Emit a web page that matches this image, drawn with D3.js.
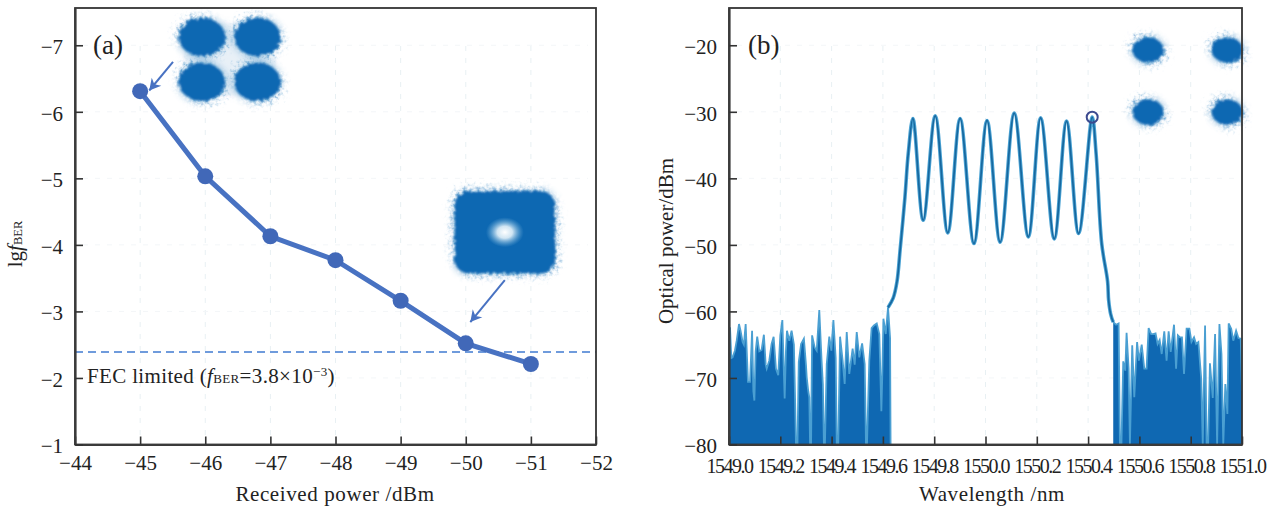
<!DOCTYPE html>
<html>
<head>
<meta charset="utf-8">
<script src="https://cdn.jsdelivr.net/npm/d3@7"></script>
<style>
    html, body { margin: 0; padding: 0; background: #fff; }
    svg { display: block; font-family: "Liberation Serif", serif; fill: #222; }
</style>
</head>
<body>
<div id="chart"></div>
<script>
// Panel (a): BER against received power
const receivedPower = [-45, -46, -47, -48, -49, -50, -51];
const lgBer = [-6.31, -5.03, -4.13, -3.77, -3.16, -2.52, -2.21];
const fecLimit = -2.39;
const powerTicks = [-44, -45, -46, -47, -48, -49, -50, -51, -52];
const berTicks = [-7, -6, -5, -4, -3, -2, -1];

// Panel (b): optical spectrum
const noiseLeftWl = [1549.004, 1549.009, 1549.014, 1549.023, 1549.030, 1549.039, 1549.045, 1549.053, 1549.058, 1549.065, 1549.074, 1549.082, 1549.090, 1549.095, 1549.099, 1549.104, 1549.110, 1549.118, 1549.127, 1549.136, 1549.143, 1549.147, 1549.157, 1549.166, 1549.174, 1549.183, 1549.192, 1549.200, 1549.208, 1549.213, 1549.217, 1549.222, 1549.226, 1549.235, 1549.244, 1549.253, 1549.257, 1549.261, 1549.267, 1549.272, 1549.281, 1549.292, 1549.300, 1549.303, 1549.309, 1549.313, 1549.316, 1549.320, 1549.324, 1549.334, 1549.342, 1549.352, 1549.361, 1549.366, 1549.370, 1549.374, 1549.381, 1549.391, 1549.399, 1549.407, 1549.416, 1549.420, 1549.426, 1549.433, 1549.443, 1549.451, 1549.459, 1549.469, 1549.482, 1549.490, 1549.498, 1549.508, 1549.519, 1549.529, 1549.534, 1549.538, 1549.547, 1549.556, 1549.565, 1549.576, 1549.586, 1549.594, 1549.598, 1549.602, 1549.611, 1549.620, 1549.628, 1549.630];
const noiseLeftDb = [-62.4, -67.0, -66.9, -65.9, -64.4, -61.9, -62.9, -64.6, -65.0, -61.9, -70.6, -70.6, -62.9, -72.0, -73.4, -66.0, -63.8, -66.0, -65.8, -63.5, -68.0, -68.6, -67.4, -64.9, -63.8, -68.6, -69.6, -63.6, -61.3, -68.0, -73.1, -66.0, -62.9, -64.4, -62.9, -65.0, -72.0, -80, -80, -67.6, -64.9, -64.1, -68.0, -69.9, -72.0, -72.9, -80, -80, -63.6, -65.4, -65.9, -59.8, -67.4, -71.0, -80, -80, -67.9, -63.8, -65.9, -61.3, -67.0, -80, -80, -63.8, -67.4, -70.9, -63.1, -69.4, -65.6, -68.0, -63.1, -66.9, -64.8, -67.9, -80, -80, -67.4, -62.5, -62.1, -61.8, -63.4, -75.0, -69.0, -61.1, -63.4, -59.4, -64.0, -80];

const bandWl = [1549.620, 1549.640, 1549.655, 1549.667, 1549.686, 1549.699, 1549.717, 1549.757, 1549.804, 1549.853, 1549.901, 1549.955, 1550.006, 1550.057, 1550.112, 1550.167, 1550.215, 1550.268, 1550.316, 1550.363, 1550.416, 1550.431, 1550.453, 1550.476, 1550.480, 1550.488, 1550.498];
const bandDb = [-59.4, -58.0, -55.5, -50.8, -42.8, -36.2, -31.0, -46.3, -30.6, -48.2, -31.0, -49.8, -31.3, -49.6, -30.2, -48.8, -30.9, -49.1, -31.4, -48.3, -30.8, -36.2, -49.8, -55.5, -58.3, -60.4, -61.6];

const noiseRightWl = [1550.498, 1550.509, 1550.519, 1550.524, 1550.530, 1550.537, 1550.545, 1550.550, 1550.558, 1550.563, 1550.572, 1550.580, 1550.591, 1550.598, 1550.609, 1550.619, 1550.628, 1550.636, 1550.646, 1550.654, 1550.663, 1550.671, 1550.679, 1550.687, 1550.697, 1550.706, 1550.714, 1550.722, 1550.735, 1550.743, 1550.750, 1550.758, 1550.766, 1550.774, 1550.784, 1550.795, 1550.803, 1550.813, 1550.821, 1550.830, 1550.841, 1550.847, 1550.856, 1550.862, 1550.868, 1550.875, 1550.886, 1550.895, 1550.903, 1550.912, 1550.920, 1550.927, 1550.935, 1550.943, 1550.948, 1550.958, 1550.966, 1550.977, 1550.986, 1550.995, 1551.000];
const noiseRightDb = [-61.6, -62.0, -61.8, -80, -80, -67.5, -68.9, -63.2, -68.6, -80, -65.1, -72.9, -64.6, -67.4, -65.0, -68.6, -68.6, -62.5, -63.4, -63.4, -63.3, -64.9, -64.3, -66.4, -63.0, -67.4, -63.0, -66.1, -62.0, -68.6, -63.6, -63.9, -63.9, -69.4, -62.6, -62.6, -64.6, -63.9, -64.9, -64.6, -70.1, -80, -62.1, -80, -80, -67.8, -73.0, -63.4, -80, -61.9, -66.4, -80, -70.9, -75.4, -61.8, -62.6, -64.4, -62.9, -64.0, -64.1, -71.9];

const markedPeak = [1550.416, -30.8];
const wavelengthTicks = [1549.0, 1549.2, 1549.4, 1549.6, 1549.8, 1550.0, 1550.2, 1550.4, 1550.6, 1550.8, 1551.0];
const opticalTicks = [-20, -30, -40, -50, -60, -70, -80];

// Constellation insets, centres given in each panel's own axis units
const insetPower = [-45.95, -46.80, -45.95, -46.80];
const insetBer = [-7.125, -7.125, -6.45, -6.45];
const insetWl = [1550.634, 1550.942, 1550.634, 1550.942];
const insetDb = [-20.7, -20.7, -30.04, -30.04];

const svgWidth = 1273;
const svgHeight = 508;
const plotTop = 8;
const plotBottom = 444.5;

const svg = d3.select("#chart").append("svg")
    .attr("width", svgWidth)
    .attr("height", svgHeight);

// Fuzzy edge for the constellation clouds
const defs = svg.append("defs");
const fuzz = defs.append("filter").attr("id", "fuzz")
    .attr("x", "-40%").attr("y", "-40%").attr("width", "180%").attr("height", "180%");
fuzz.append("feTurbulence").attr("type", "fractalNoise").attr("baseFrequency", 0.3)
    .attr("numOctaves", 2).attr("seed", 4).attr("result", "noise");
fuzz.append("feGaussianBlur").attr("in", "SourceGraphic").attr("stdDeviation", 4.5).attr("result", "wide");
fuzz.append("feDisplacementMap").attr("in", "wide").attr("in2", "noise").attr("scale", 16).attr("result", "halo");
fuzz.append("feGaussianBlur").attr("in", "halo").attr("stdDeviation", 0.6).attr("result", "haloSoft");
fuzz.append("feComponentTransfer").attr("in", "haloSoft").attr("result", "haloLight")
    .append("feFuncA").attr("type", "linear").attr("slope", 0.6);
fuzz.append("feDisplacementMap").attr("in", "SourceGraphic").attr("in2", "noise").attr("scale", 5).attr("result", "core");
fuzz.append("feGaussianBlur").attr("in", "core").attr("stdDeviation", 1.2).attr("result", "coreSoft");
const merge = fuzz.append("feMerge");
merge.append("feMergeNode").attr("in", "haloLight");
merge.append("feMergeNode").attr("in", "coreSoft");

// Soft hole in the middle of the -50 dBm constellation
const hole = defs.append("radialGradient").attr("id", "hole");
hole.append("stop").attr("offset", "0%").attr("stop-color", "#fff").attr("stop-opacity", 1);
hole.append("stop").attr("offset", "40%").attr("stop-color", "#e6f3fa").attr("stop-opacity", 0.9);
hole.append("stop").attr("offset", "100%").attr("stop-color", "#7db9de").attr("stop-opacity", 0);

function drawAxes(x, y, xTicks, yTicks, left, right, xFontSize, xPadding) {
    const width = right - left;

    // faint dashed guide lines
    const grid = svg.append("g").attr("stroke", "#e8f0f3").attr("stroke-width", 1).attr("stroke-dasharray", "5,7");
    xTicks.slice(1, -1).forEach(t => {
        grid.append("line").attr("x1", x(t)).attr("x2", x(t))
            .attr("y1", plotTop + 38).attr("y2", plotBottom - 4);
    });
    yTicks.slice(0, -1).forEach(t => {
        grid.append("line").attr("x1", left + 8).attr("x2", right - 8)
            .attr("y1", y(t)).attr("y2", y(t)).attr("stroke", "#f3f6f8");
    });

    return () => {
        svg.append("rect")
            .attr("x", left).attr("y", plotTop)
            .attr("width", width).attr("height", plotBottom - plotTop)
            .attr("fill", "none").attr("stroke", "#333").attr("stroke-width", 1.8);

        const xAxis = svg.append("g")
            .attr("transform", `translate(0,${plotBottom})`)
            .call(d3.axisBottom(x).tickValues(xTicks).tickSize(-8).tickSizeOuter(0).tickPadding(xPadding)
                .tickFormat(xTicks[0] > 0 ? d3.format(".1f") : d3.format("d")));
        const yAxis = svg.append("g")
            .attr("transform", `translate(${left},0)`)
            .call(d3.axisLeft(y).tickValues(yTicks).tickSize(-8).tickSizeOuter(0).tickPadding(12).tickFormat(d3.format("d")));

        [xAxis, yAxis].forEach(axis => {
            axis.select(".domain").attr("stroke", "#3a3a3a").attr("stroke-width", 2.2);
            axis.selectAll(".tick line").attr("stroke", "#333").attr("stroke-width", 1.6);
            axis.selectAll("text")
                .attr("font-family", "Liberation Serif, serif")
                .attr("fill", "#222");
        });
        xAxis.selectAll("text").attr("font-size", xFontSize);
        yAxis.selectAll("text").attr("font-size", 21).attr("dy", "0.4em");
        return { xAxis, yAxis };
    };
}

function createPanelA() {
    const left = 75, right = 596;
    const x = d3.scaleLinear().domain([-44, -52]).range([left, right]);
    const y = d3.scaleLinear().domain([-1, -7.56]).range([plotBottom, plotTop]);
    const finish = drawAxes(x, y, powerTicks, berTicks, left, right, 21, 11);

    // constellation at -45 dBm
    const clouds = svg.append("g").attr("filter", "url(#fuzz)").attr("fill", "#0f68b2");
    clouds.append("rect")
        .attr("x", x(-45.95) - 18).attr("y", y(-7.125) - 14)
        .attr("width", x(-46.80) - x(-45.95) + 36).attr("height", y(-6.45) - y(-7.125) + 28)
        .attr("rx", 14).attr("fill-opacity", 0.06);
    insetPower.forEach((p, i) => {
        clouds.append("ellipse")
            .attr("cx", x(p)).attr("cy", y(insetBer[i]))
            .attr("rx", 23).attr("ry", 19);
    });

    // constellation at -50 dBm: closed square with small opening
    svg.append("g").attr("filter", "url(#fuzz)").append("rect")
        .attr("x", x(-50.6) - 50).attr("y", y(-4.19) - 41)
        .attr("width", 100).attr("height", 82).attr("rx", 14)
        .attr("fill", "#0f68b2");
    svg.append("ellipse")
        .attr("cx", x(-50.6)).attr("cy", y(-4.19))
        .attr("rx", 19).attr("ry", 15)
        .attr("fill", "url(#hole)");

    // FEC limit
    svg.append("line")
        .attr("x1", left).attr("x2", right)
        .attr("y1", y(fecLimit)).attr("y2", y(fecLimit))
        .attr("stroke", "#6f9bdc").attr("stroke-width", 2).attr("stroke-dasharray", "8,5");

    // Line and markers
    const line = d3.line().x(d => x(d[0])).y(d => y(d[1]));
    const points = d3.zip(receivedPower, lgBer);
    svg.append("path").attr("d", line(points))
        .attr("fill", "none").attr("stroke", "#4872c2").attr("stroke-width", 5);
    svg.selectAll(".ber-dot").data(points).enter().append("circle")
        .attr("class", "ber-dot")
        .attr("cx", d => x(d[0])).attr("cy", d => y(d[1])).attr("r", 8)
        .attr("fill", "#4168b8");

    // Arrows from the insets
    drawArrow(x(-45.505), y(-6.75), x(-45.14), y(-6.32));
    drawArrow(x(-50.60), y(-3.47), x(-50.07), y(-2.84));

    finish();

    // Labels
    svg.append("text").attr("x", 93).attr("y", 54).attr("font-size", 27).text("(a)");

    const fec = svg.append("text").attr("x", 87).attr("y", 383).attr("font-size", 21).attr("letter-spacing", 0.35);
    fec.append("tspan").text("FEC limited (");
    fec.append("tspan").attr("font-style", "italic").text("f");
    fec.append("tspan").attr("font-size", 13).text("BER");
    fec.append("tspan").text("=3.8×10");
    fec.append("tspan").attr("font-size", 13).attr("dy", -7).text("−3");
    fec.append("tspan").attr("dy", 7).text(")");

    svg.append("text")
        .attr("x", 335).attr("y", 501)
        .attr("text-anchor", "middle").attr("font-size", 21).attr("letter-spacing", 0.6)
        .text("Received power /dBm");

    const yLabel = svg.append("text")
        .attr("transform", "rotate(-90)")
        .attr("x", -244).attr("y", 22)
        .attr("text-anchor", "middle").attr("font-size", 21);
    yLabel.append("tspan").text("lg");
    yLabel.append("tspan").attr("font-style", "italic").text("f");
    yLabel.append("tspan").attr("font-size", 12.5).text("BER");
}

function drawArrow(x1, y1, x2, y2) {
    const angle = Math.atan2(y2 - y1, x2 - x1);
    const head = 13, spread = 0.5;
    svg.append("line")
        .attr("x1", x1).attr("y1", y1).attr("x2", x2).attr("y2", y2)
        .attr("stroke", "#4872c2").attr("stroke-width", 2);
    const barbs = [angle - spread, angle + spread].map(a => [x2 - head * Math.cos(a), y2 - head * Math.sin(a)]);
    svg.append("path")
        .attr("d", `M${barbs[0]}L${x2},${y2}L${barbs[1]}L${x2 - 8 * Math.cos(angle)},${y2 - 8 * Math.sin(angle)}Z`)
        .attr("fill", "#4872c2");
}

function createPanelB() {
    const left = 729, right = 1242;
    const x = d3.scaleLinear().domain([1549, 1551]).range([left, right]);
    const y = d3.scaleLinear().domain([-80, -14.4]).range([plotBottom, plotTop]);
    const finish = drawAxes(x, y, wavelengthTicks, opticalTicks, left, right, 20, 14);

    const clouds = svg.append("g").attr("filter", "url(#fuzz)").attr("fill", "#0f68b2");
    insetWl.forEach((w, i) => {
        clouds.append("ellipse")
            .attr("cx", x(w)).attr("cy", y(insetDb[i]))
            .attr("rx", 15.5).attr("ry", 12.5);
    });

    defs.append("clipPath").attr("id", "clipB").append("rect")
        .attr("x", left).attr("y", plotTop).attr("width", right - left).attr("height", plotBottom - plotTop);
    const plot = svg.append("g").attr("clip-path", "url(#clipB)");

    const area = d3.area().x(d => x(d[0])).y0(y(-80)).y1(d => y(d[1]));
    const line = d3.line().x(d => x(d[0])).y(d => y(d[1]));
    const bandLine = d3.line().x(d => x(d[0])).y(d => y(d[1])).curve(d3.curveCatmullRom.alpha(0.5));

    [d3.zip(noiseLeftWl, noiseLeftDb), d3.zip(noiseRightWl, noiseRightDb)].forEach(noise => {
        plot.append("path").attr("d", area(noise)).attr("fill", "#0f68b2");
        plot.append("path").attr("d", line(noise))
            .attr("fill", "none").attr("stroke", "#4a9fd2").attr("stroke-width", 1.8);
    });

    const band = d3.zip(bandWl, bandDb);
    plot.append("path").attr("d", bandLine(band))
        .attr("fill", "none").attr("stroke", "#4ba3d4").attr("stroke-width", 3.6);
    plot.append("path").attr("d", bandLine(band))
        .attr("fill", "none").attr("stroke", "#17689f").attr("stroke-width", 1.7);

    svg.append("circle")
        .attr("cx", x(markedPeak[0])).attr("cy", y(markedPeak[1])).attr("r", 5.5)
        .attr("fill", "none").attr("stroke", "#3c4a8f").attr("stroke-width", 2);

    const axes = finish();
    axes.xAxis.selectAll("text").attr("letter-spacing", -1.5);

    svg.append("text").attr("x", 748).attr("y", 54).attr("font-size", 27).text("(b)");

    svg.append("text")
        .attr("x", 992).attr("y", 501)
        .attr("text-anchor", "middle").attr("font-size", 21).attr("letter-spacing", 0.6)
        .text("Wavelength /nm");

    svg.append("text")
        .attr("transform", "rotate(-90)")
        .attr("x", -241).attr("y", 673)
        .attr("text-anchor", "middle").attr("font-size", 21)
        .text("Optical power/dBm");
}

createPanelA();
createPanelB();
</script>
</body>
</html>
